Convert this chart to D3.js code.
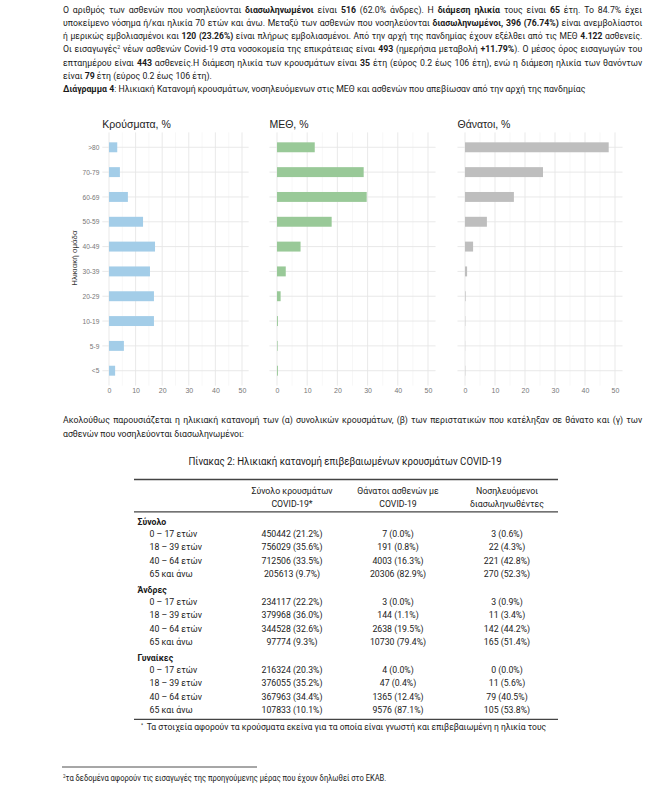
<!DOCTYPE html>
<html>
<head>
<meta charset="utf-8">
<script src="https://cdn.jsdelivr.net/npm/d3@7"></script>
<style>
  body { margin: 0; background: #fff; }
  svg { display: block; }
</style>
</head>
<body>
<script>
// ---- chart data ----
var ageGroups = [">80", "70-79", "60-69", "50-59", "40-49", "30-39", "20-29", "10-19", "5-9", "<5"];
var casesPct  = [3.1, 4.1, 7.1, 12.8, 17.3, 15.4, 16.9, 16.9, 5.6, 2.3];
var icuPct    = [12.5, 28.7, 29.7, 18.1, 7.8, 2.9, 1.2, 0.3, 0.2, 0.3];
var deathsPct = [47.9, 26.0, 16.3, 7.3, 2.7, 0.7, 0.2, 0.1, 0.05, 0.1];
var xTicks = [0, 10, 20, 30, 40, 50];
var panelTitles = ["Κρούσματα, %", "ΜΕΘ, %", "Θάνατοι, %"];
var panelColors = ["#a3cde8", "#99c998", "#bebebe"];

// ---- table data ----
var tableGroups = ["Σύνολο", "Άνδρες", "Γυναίκες"];
var tableAges = ["0 – 17 ετών", "18 – 39 ετών", "40 – 64 ετών", "65 και άνω"];
var tableHeaders = [["Σύνολο κρουσμάτων", "COVID-19*"], ["Θάνατοι ασθενών με", "COVID-19"], ["Νοσηλευόμενοι", "διασωληνωθέντες"]];
var casesCol = ["450442 (21.2%)", "756029 (35.6%)", "712506 (33.5%)", "205613 (9.7%)",
                "234117 (22.2%)", "379968 (36.0%)", "344528 (32.6%)", "97774 (9.3%)",
                "216324 (20.3%)", "376055 (35.2%)", "367963 (34.4%)", "107833 (10.1%)"];
var deathsCol = ["7 (0.0%)", "191 (0.8%)", "4003 (16.3%)", "20306 (82.9%)",
                 "3 (0.0%)", "144 (1.1%)", "2638 (19.5%)", "10730 (79.4%)",
                 "4 (0.0%)", "47 (0.4%)", "1365 (12.4%)", "9576 (87.1%)"];
var intubCol  = ["3 (0.6%)", "22 (4.3%)", "221 (42.8%)", "270 (52.3%)",
                 "3 (0.9%)", "11 (3.4%)", "142 (44.2%)", "165 (51.4%)",
                 "0 (0.0%)", "11 (5.6%)", "79 (40.5%)", "105 (53.8%)"];

var bodyFont = "Roboto, 'Open Sans', sans-serif";
var plotFont = "'Liberation Sans', Arial, sans-serif";

var svg = d3.select("body").append("svg").attr("width", 656).attr("height", 791);

// paragraph lines: [text, style]  style: 0 normal, 1 bold, 2 superscript
var introLines = [
  [["Ο αριθμός των ασθενών που νοσηλεύονται ", 0], ["διασωληνωμένοι", 1], [" είναι ", 0], ["516", 1], [" (62.0% άνδρες). Η ", 0], ["διάμεση ηλικία", 1], [" τους είναι ", 0], ["65", 1], [" έτη. Το 84.7% έχει", 0]],
  [["υποκείμενο νόσημα ή/και ηλικία 70 ετών και άνω. Μεταξύ των ασθενών που νοσηλεύονται ", 0], ["διασωληνωμένοι, 396 (76.74%)", 1], [" είναι ανεμβολίαστοι", 0]],
  [["ή μερικώς εμβολιασμένοι και ", 0], ["120 (23.26%)", 1], [" είναι πλήρως εμβολιασμένοι. Από την αρχή της πανδημίας έχουν εξέλθει από τις ΜΕΘ ", 0], ["4.122", 1], [" ασθενείς.", 0]],
  [["Οι εισαγωγές", 0], ["2", 2], [" νέων ασθενών Covid-19 στα νοσοκομεία της επικράτειας είναι ", 0], ["493", 1], [" (ημερήσια μεταβολή ", 0], ["+11.79%", 1], ["). Ο μέσος όρος εισαγωγών του", 0]],
  [["επταημέρου είναι ", 0], ["443", 1], [" ασθενείς.Η διάμεση ηλικία των κρουσμάτων είναι ", 0], ["35", 1], [" έτη (εύρος 0.2 έως 106 έτη), ενώ η διάμεση ηλικία των θανόντων", 0]],
  [["είναι ", 0], ["79", 1], [" έτη (εύρος 0.2 έως 106 έτη).", 0]],
  [["Διάγραμμα 4", 1], [": Ηλικιακή Κατανομή κρουσμάτων, νοσηλευόμενων στις ΜΕΘ και ασθενών που απεβίωσαν από την αρχή της πανδημίας", 0]]
];
var afterLines = [
  [["Ακολούθως παρουσιάζεται η ηλικιακή κατανομή των (α) συνολικών κρουσμάτων, (β) των περιστατικών που κατέληξαν σε θάνατο και (γ) των", 0]],
  [["ασθενών που νοσηλεύονται διασωληνωμένοι:", 0]]
];

var squeeze = 0.9; // the report's font is narrower than Roboto

function writeLine(g, segs, x, y, size, justifyTo) {
  var t = g.append("text").attr("x", 0).attr("y", 0)
    .attr("font-family", bodyFont).attr("font-size", size).attr("fill", "#1a1a1a");
  var up = false;
  segs.forEach(function(s) {
    var ts = t.append("tspan").text(s[0]);
    if (s[1] == 1) ts.attr("font-weight", "bold");
    if (s[1] == 2) { ts.attr("font-size", size * 0.6).attr("dy", -3.5); up = true; }
    else if (up) { ts.attr("dy", 3.5); up = false; }
  });
  var f = squeeze;
  if (justifyTo) {
    var len = t.node().getComputedTextLength();
    var n = (t.node().textContent.match(/ /g) || []).length;
    if (justifyTo / f - len < n * 0.6) f = justifyTo / (len + n * 0.6);
    t.style("word-spacing", ((justifyTo / f - len) / n) + "px");
  }
  t.attr("transform", "translate(" + x + "," + y + ") scale(" + f + ",1)");
  return t;
}

var textG = svg.append("g");
introLines.forEach(function(l, i) {
  writeLine(textG, l, 63, 12.8 + i * 13.2, 9.7, i < 5 ? 579 : null);
});
afterLines.forEach(function(l, i) {
  writeLine(textG, l, 63, 422.5 + i * 14.8, 9.7, i < 1 ? 579 : null);
});

// ---- the three bar panels ----
var panels = [
  {values: casesPct,  x0: 102.35, x1: 248.65},
  {values: icuPct,    x0: 269.45, x1: 435.55},
  {values: deathsPct, x0: 457.5,  x1: 622.5}
];
var y = d3.scalePoint().domain(ageGroups).range([132.4, 385.6]).padding(0.6);
var barH = y.step() * 0.4;

panels.forEach(function(p, k) {
  var x = d3.scaleLinear().domain([-2.5, 52.5]).range([p.x0, p.x1]);
  var g = svg.append("g");
  var minor = [5, 15, 25, 35, 45];
  g.selectAll(".minor").data(minor).enter().append("line")
    .attr("x1", function(d) { return x(d); }).attr("x2", function(d) { return x(d); })
    .attr("y1", 132.4).attr("y2", 385.6)
    .attr("stroke", "#f2f2f2").attr("stroke-width", 0.6);
  g.selectAll(".major").data(xTicks).enter().append("line")
    .attr("x1", function(d) { return x(d); }).attr("x2", function(d) { return x(d); })
    .attr("y1", 132.4).attr("y2", 385.6)
    .attr("stroke", "#e6e6e6").attr("stroke-width", 0.9);
  g.selectAll(".hgrid").data(ageGroups).enter().append("line")
    .attr("x1", p.x0).attr("x2", p.x1)
    .attr("y1", function(d) { return y(d); }).attr("y2", function(d) { return y(d); })
    .attr("stroke", "#e6e6e6").attr("stroke-width", 0.9);

  g.selectAll("rect").data(p.values).enter().append("rect")
    .attr("x", x(0))
    .attr("y", function(d, i) { return y(ageGroups[i]) - barH / 2; })
    .attr("width", function(d) { return x(d) - x(0); })
    .attr("height", barH)
    .attr("fill", panelColors[k]);

  var ax = g.append("g").attr("transform", "translate(0,386)")
    .call(d3.axisBottom(x).tickValues(xTicks).tickSize(0).tickPadding(2));
  ax.select(".domain").remove();
  ax.selectAll("text").attr("font-family", plotFont).attr("font-size", 7).attr("fill", "#777");

  if (k == 0) {
    var ay = g.append("g").attr("transform", "translate(" + p.x0 + ",0)")
      .call(d3.axisLeft(y).tickSize(0).tickPadding(3));
    ay.select(".domain").remove();
    ay.selectAll("text").attr("font-family", plotFont).attr("font-size", 6.6).attr("fill", "#777");
    g.append("text").attr("transform", "translate(77,258) rotate(-90)")
      .attr("text-anchor", "middle").attr("font-family", plotFont).attr("font-size", 8)
      .attr("fill", "#333").text("Ηλικιακή ομάδα");
  }
  g.append("text").attr("x", p.x0).attr("y", 128)
    .attr("font-family", plotFont).attr("font-size", 10.5).attr("fill", "#222")
    .text(panelTitles[k]);
});

// ---- table ----
var tsq = 0.93;
var tg = svg.append("g").attr("font-family", bodyFont).attr("font-size", 9.4).attr("fill", "#1a1a1a");
function cell(x, y, s, anchor) {
  return tg.append("text").attr("transform", "translate(" + x + "," + y + ") scale(" + tsq + ",1)")
    .attr("dy", "0.35em").attr("text-anchor", anchor || "start").text(s);
}
var colX = [292, 398, 507];
var cols = [casesCol, deathsCol, intubCol];

cell(345, 461, "Πίνακας 2: Ηλικιακή κατανομή επιβεβαιωμένων κρουσμάτων COVID-19", "middle")
  .attr("font-size", 10.4);

[479.5, 511.8, 719.3].forEach(function(ry) {
  tg.append("line").attr("x1", 134).attr("x2", 558).attr("y1", ry).attr("y2", ry)
    .attr("stroke", "#444").attr("stroke-width", 1.3);
});

tableHeaders.forEach(function(h, c) {
  h.forEach(function(s, j) {
    cell(colX[c], 490.7 + j * 12.6, s, "middle");
  });
});

tableGroups.forEach(function(gname, gi) {
  var top = 521.5 + gi * 68;
  cell(137.5, top, gname).attr("font-weight", "bold");
  tableAges.forEach(function(a, i) {
    var ry = top + 12.2 + i * 13.35;
    var idx = gi * 4 + i;
    cell(149.5, ry, a);
    cols.forEach(function(col, c) {
      cell(colX[c], ry, col[idx], "middle");
    });
  });
});

var fn = tg.append("text").attr("transform", "translate(141,730) scale(0.91,1)");
fn.append("tspan").attr("font-size", 5.5).attr("dy", -3).text("*");
fn.append("tspan").attr("dy", 3).attr("dx", 1.5).text(" Τα στοιχεία αφορούν τα κρούσματα εκείνα για τα οποία είναι γνωστή και επιβεβαιωμένη η ηλικία τους");

// ---- page footnote ----
svg.append("line").attr("x1", 62).attr("x2", 257).attr("y1", 767).attr("y2", 767)
  .attr("stroke", "#222").attr("stroke-width", 0.8);
var pf = svg.append("text").attr("transform", "translate(63,781) scale(0.9,1)")
  .attr("font-family", bodyFont).attr("font-size", 8.4).attr("fill", "#1a1a1a");
pf.append("tspan").attr("font-size", 5).attr("dy", -3).text("2");
pf.append("tspan").attr("dy", 3).text("τα δεδομένα αφορούν τις εισαγωγές της προηγούμενης μέρας που έχουν δηλωθεί στο ΕΚΑΒ.");
</script>
</body>
</html>
